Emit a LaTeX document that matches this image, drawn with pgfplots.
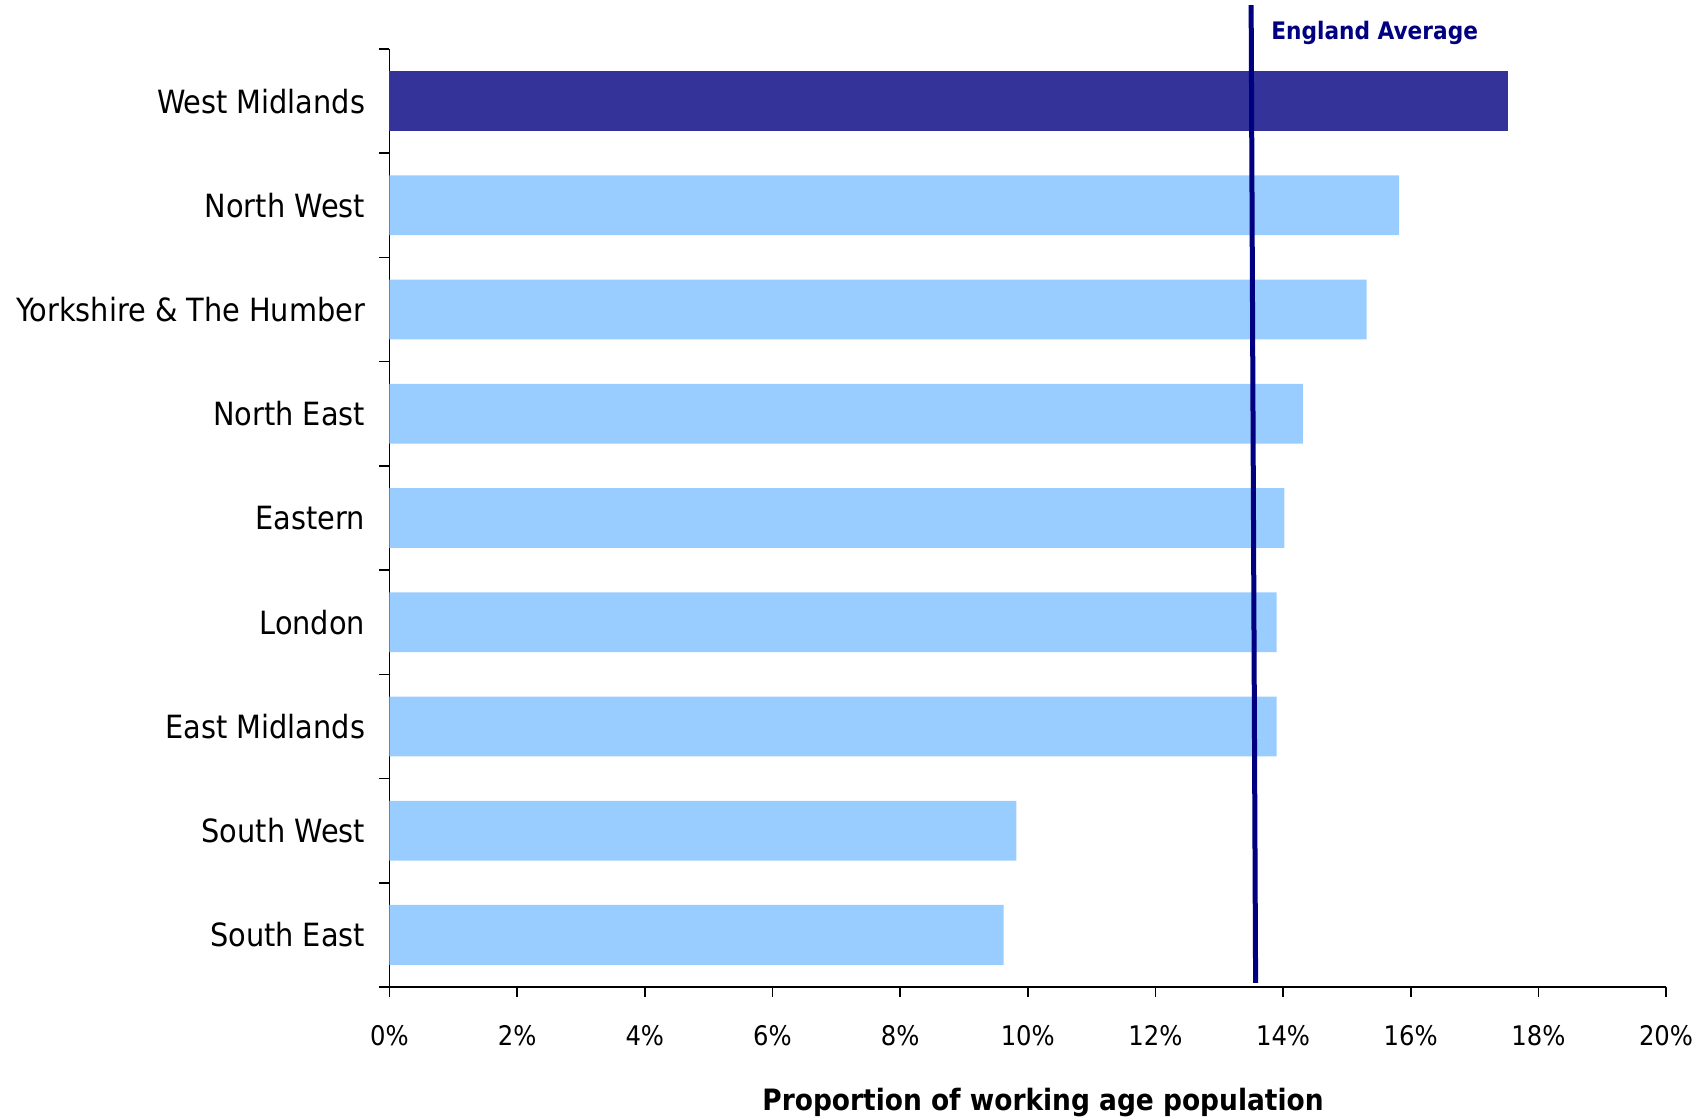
\documentclass[border=0pt]{standalone}
\usepackage{fontspec}
\setmainfont{DejaVu Sans Condensed}
\usepackage{pgfplots}
\pgfplotsset{compat=1.18}
\usetikzlibrary{calc}
\definecolor{darkbar}{RGB}{51,51,153}
\definecolor{lightbar}{RGB}{153,204,255}
\definecolor{avgline}{RGB}{0,0,128}
\begin{document}
\begin{tikzpicture}
\begin{axis}[
  width=638.25pt, height=469pt, scale only axis,
  xmin=0, xmax=20, ymin=0.5, ymax=9.5,
  axis x line=bottom, axis y line=left,
  axis line style={-, line width=0.8pt, black},
  xtick={0,2,...,20},
  xticklabel={\pgfmathprintnumber{\tick}\%},
  /pgf/number format/assume math mode=true,
  tick align=outside,
  major tick length=5pt,
  ytick={1,...,9},
  yticklabels={South East,South West,East Midlands,London,Eastern,North East,Yorkshire \& The Humber,North West,West Midlands},
  minor ytick={0.5,1.5,...,9.5},
  minor tick length=5pt,
  major y tick style={draw=none},
  tick style={line width=0.8pt, black},
  yticklabel style={font=\fontsize{16}{19}\selectfont, anchor=east, inner sep=0pt, xshift=-7pt},
  xticklabel style={font=\fontsize{13.5}{16}\selectfont, anchor=north, inner sep=0pt, yshift=-14pt},
  xlabel={Proportion of working age population},
  xlabel style={font=\fontsize{14.7}{17}\selectfont\bfseries, at={(axis description cs:0.512,0)}, anchor=center, yshift=-58pt},
  clip=false,
]
\addplot[xbar, bar width=29.9pt, bar shift=0pt, fill=lightbar, draw=none] coordinates {(9.62,1) (9.82,2) (13.90,3) (13.90,4) (14.02,5) (14.31,6) (15.31,7) (15.82,8)};
\addplot[xbar, bar width=29.9pt, bar shift=0pt, fill=darkbar, draw=none] coordinates {(17.53,9)};
\addplot[avgline, line width=2.5pt, mark=none] coordinates {(13.50,9.92) (13.57,0.54)};
\node[anchor=west, text=avgline, inner sep=0pt, font=\fontsize{12.05}{15}\selectfont\bfseries] at (axis cs:13.81,9.655) {England Average};
\end{axis}
\pgfresetboundingbox
\path ($(current axis.south west)+(-194.75pt,-66.5pt)$) rectangle ($(current axis.north east)+(20pt,24.5pt)$);
\end{tikzpicture}
\end{document}
